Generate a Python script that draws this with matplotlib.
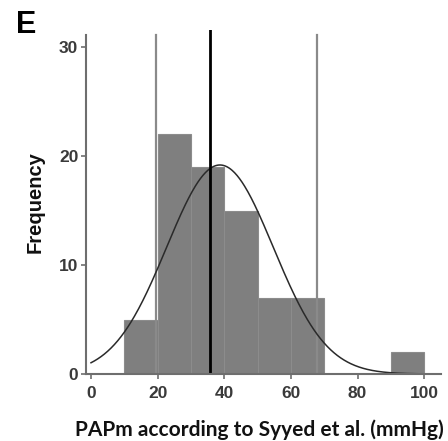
import matplotlib
matplotlib.use('Agg')
import matplotlib.pyplot as plt
import numpy as np

# %% Daten
bin_left = [10, 20, 30, 40, 50, 60, 90]
counts = [5, 22, 19, 15, 7, 7, 2]
bin_width = 10

# Normalverteilungskurve (Fit): Mittelwert, Standardabweichung
fit_mean = 38.7
fit_sd = 16.0

ref_gray = [19.5, 67.9]   # graue Referenzlinien
ref_black = 35.7          # schwarze Linie

xticks = [0, 20, 40, 60, 80, 100]
yticks = [0, 10, 20, 30]

# %% Plot
fig = plt.figure(figsize=(4.48, 4.41), dpi=100)
ax = fig.add_axes([0.192, 0.152, 0.792, 0.78])

ax.bar(bin_left, counts, width=bin_width, align='edge',
       color='#7f7f7f', edgecolor='#8c8c8c', linewidth=0.8, zorder=2)

n_total = sum(counts)
xs = np.linspace(0, 100, 400)
ys = n_total * bin_width / (np.sqrt(2 * np.pi) * fit_sd) * \
    np.exp(-(xs - fit_mean) ** 2 / (2 * fit_sd ** 2))
ax.plot(xs, ys, color='#2a2a2a', linewidth=1.1, zorder=4)

for xv in ref_gray:
    ax.plot([xv, xv], [0, 31.1], color='#8a8a8a', linewidth=1.6, zorder=3)
ax.plot([ref_black, ref_black], [0, 31.6], color='black', linewidth=2.0, zorder=5)

ax.set_xlim(-1.5, 105)
ax.set_ylim(0, 31.6)
ax.spines['top'].set_visible(False)
ax.spines['right'].set_visible(False)
ax.spines['left'].set_bounds(0, 31.1)
for s in ['left', 'bottom']:
    ax.spines[s].set_color('#6e6e6e')
    ax.spines[s].set_linewidth(1.5)
    ax.spines[s].set_zorder(6)

ax.set_xticks(xticks)
ax.set_yticks(yticks)
ax.tick_params(axis='both', length=3.5, width=1.2, color='#6e6e6e',
               labelsize=12.5, labelcolor='#3a3a3a')
ax.tick_params(axis='x', pad=5)
ax.tick_params(axis='y', pad=2)
for lab in ax.get_xticklabels() + ax.get_yticklabels():
    lab.set_family('Liberation Sans')
    lab.set_fontweight('bold')

fig.text(0.579, 0.025, 'PAPm according to Syyed et al. (mmHg)', family='Lato',
         fontweight='bold', fontsize=15, color='#111111',
         ha='center', va='center')
ax.set_ylabel('Frequency', family='Liberation Sans', fontweight='bold',
              fontsize=14.5, color='#111111', labelpad=10)

fig.text(0.036, 0.978, 'E', family='Liberation Sans', fontweight='bold',
         fontsize=22, va='top', ha='left')

fig.savefig('out.png', dpi=100)
